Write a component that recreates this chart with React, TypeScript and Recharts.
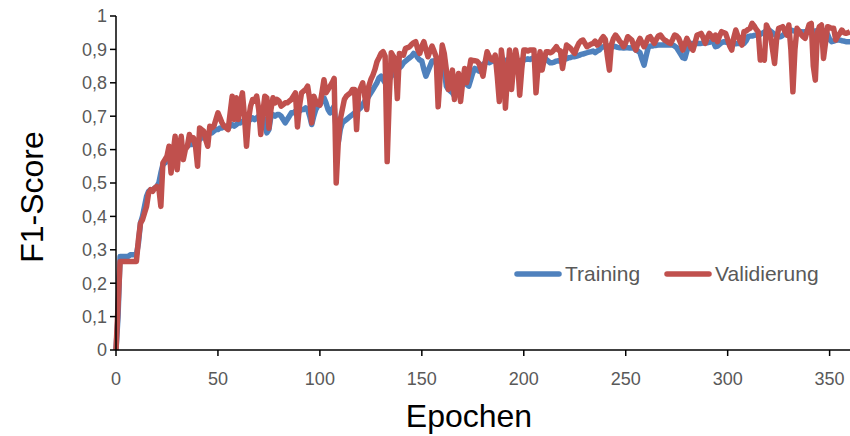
import { LineChart, Line, XAxis, YAxis, Legend, Label } from 'recharts'

// F1-score per epoch (epochs 0..360)
const training = [
  0, 0.1, 0.28, 0.28, 0.28, 0.28, 0.28, 0.285, 0.285, 0.285,
  0.285, 0.32, 0.38, 0.4, 0.43, 0.46, 0.475, 0.48, 0.48, 0.485,
  0.49, 0.5, 0.53, 0.555, 0.56, 0.565, 0.57, 0.565, 0.575, 0.58,
  0.585, 0.59, 0.6, 0.595, 0.605, 0.61, 0.615, 0.615, 0.62, 0.62,
  0.625, 0.63, 0.635, 0.64, 0.64, 0.645, 0.65, 0.65, 0.655, 0.66,
  0.66, 0.665, 0.665, 0.67, 0.67, 0.665, 0.67, 0.675, 0.67, 0.675,
  0.68, 0.68, 0.685, 0.685, 0.68, 0.69, 0.69, 0.695, 0.69, 0.695,
  0.7, 0.69, 0.7, 0.68, 0.65, 0.66, 0.7, 0.705, 0.7, 0.705,
  0.705, 0.7, 0.69, 0.68, 0.69, 0.7, 0.71, 0.71, 0.715, 0.71,
  0.715, 0.72, 0.72, 0.725, 0.72, 0.7, 0.675, 0.7, 0.72, 0.73,
  0.735, 0.745, 0.755, 0.74, 0.72, 0.71, 0.72, 0.73, 0.66, 0.62,
  0.66, 0.68, 0.685, 0.69, 0.695, 0.7, 0.705, 0.71, 0.715, 0.72,
  0.725, 0.735, 0.745, 0.75, 0.76, 0.77, 0.78, 0.79, 0.8, 0.815,
  0.82, 0.81, 0.8, 0.8, 0.81, 0.82, 0.825, 0.83, 0.835, 0.845,
  0.85, 0.86, 0.865, 0.87, 0.875, 0.88, 0.888, 0.885, 0.875, 0.868,
  0.865, 0.84, 0.82, 0.835, 0.85, 0.865, 0.865, 0.86, 0.855, 0.86,
  0.86, 0.84, 0.79, 0.78, 0.775, 0.77, 0.76, 0.77, 0.78, 0.79,
  0.8, 0.8, 0.795, 0.79, 0.81, 0.83, 0.843, 0.84, 0.835, 0.845,
  0.855, 0.86, 0.862, 0.86, 0.863, 0.865, 0.865, 0.86, 0.862, 0.865,
  0.866, 0.867, 0.868, 0.866, 0.865, 0.867, 0.868, 0.866, 0.865, 0.868,
  0.868, 0.87, 0.872, 0.87, 0.873, 0.875, 0.872, 0.875, 0.876, 0.878,
  0.876, 0.87, 0.865, 0.86, 0.86, 0.862, 0.865, 0.866, 0.865, 0.868,
  0.87, 0.872, 0.875, 0.876, 0.878, 0.878, 0.88, 0.882, 0.885, 0.886,
  0.888, 0.89, 0.892, 0.893, 0.895, 0.89, 0.895, 0.898, 0.905, 0.908,
  0.908, 0.91, 0.91, 0.905, 0.91, 0.908, 0.906, 0.905, 0.905, 0.904,
  0.905, 0.905, 0.904, 0.905, 0.903, 0.898, 0.895, 0.89, 0.87, 0.853,
  0.88, 0.905, 0.91, 0.91, 0.912, 0.912, 0.913, 0.913, 0.913, 0.914,
  0.913, 0.913, 0.914, 0.913, 0.91, 0.905, 0.895, 0.885, 0.875, 0.873,
  0.895, 0.912, 0.918, 0.918, 0.917, 0.918, 0.918, 0.918, 0.919, 0.92,
  0.92, 0.921, 0.923, 0.923, 0.908, 0.91, 0.915, 0.92, 0.923, 0.922,
  0.92, 0.918, 0.918, 0.918, 0.917, 0.918, 0.918, 0.918, 0.918, 0.925,
  0.938, 0.94, 0.94, 0.942, 0.943, 0.943, 0.945, 0.948, 0.952, 0.955,
  0.958, 0.955, 0.95, 0.945, 0.94, 0.938, 0.938, 0.942, 0.948, 0.952,
  0.956, 0.958, 0.956, 0.955, 0.953, 0.953, 0.953, 0.952, 0.953, 0.953,
  0.953, 0.953, 0.954, 0.955, 0.956, 0.957, 0.958, 0.957, 0.955, 0.945,
  0.93, 0.923, 0.925, 0.927, 0.928, 0.928, 0.926, 0.925, 0.923, 0.923,
  0.923,
]

const validierung = [
  0, 0.13, 0.265, 0.265, 0.265, 0.265, 0.265, 0.265, 0.265, 0.265,
  0.265, 0.33, 0.38, 0.39, 0.41, 0.43, 0.47, 0.48, 0.475, 0.485,
  0.49, 0.485, 0.43, 0.56, 0.57, 0.58, 0.61, 0.53, 0.59, 0.64,
  0.54, 0.61, 0.64, 0.57, 0.6, 0.61, 0.645, 0.63, 0.635, 0.61,
  0.55, 0.665, 0.66, 0.655, 0.63, 0.61, 0.67, 0.665, 0.67, 0.69,
  0.71, 0.695, 0.68, 0.67, 0.665, 0.66, 0.71, 0.76, 0.69, 0.755,
  0.69, 0.74, 0.77, 0.7, 0.61, 0.69, 0.73, 0.75, 0.745, 0.76,
  0.72, 0.645, 0.71, 0.76, 0.755, 0.664, 0.72, 0.755, 0.74, 0.75,
  0.745, 0.73, 0.735, 0.74, 0.74, 0.745, 0.75, 0.76, 0.77, 0.668,
  0.73, 0.77, 0.775, 0.78, 0.79, 0.75, 0.68, 0.76, 0.745, 0.735,
  0.733, 0.77, 0.809, 0.77, 0.78, 0.79, 0.8, 0.813, 0.5, 0.62,
  0.69, 0.72, 0.75, 0.76, 0.765, 0.77, 0.78, 0.78, 0.66, 0.77,
  0.785, 0.8, 0.76, 0.72, 0.79, 0.81, 0.823, 0.84, 0.863, 0.875,
  0.888, 0.893, 0.88, 0.564, 0.75, 0.89, 0.88, 0.868, 0.753, 0.888,
  0.885, 0.883, 0.903, 0.905, 0.908, 0.915, 0.92, 0.923, 0.9, 0.888,
  0.91, 0.923, 0.9, 0.878, 0.895, 0.91, 0.895, 0.878, 0.728, 0.82,
  0.913, 0.888, 0.84, 0.78, 0.81, 0.838, 0.75, 0.8, 0.828, 0.744,
  0.8, 0.843, 0.8, 0.83, 0.868, 0.867, 0.866, 0.865, 0.858, 0.84,
  0.82, 0.86, 0.893, 0.88, 0.87, 0.868, 0.883, 0.82, 0.744, 0.898,
  0.85, 0.724, 0.82, 0.898, 0.78, 0.85, 0.898, 0.863, 0.763, 0.84,
  0.898, 0.898, 0.895, 0.898, 0.898, 0.898, 0.77, 0.85, 0.893, 0.838,
  0.87, 0.893, 0.893, 0.89, 0.893, 0.9, 0.908, 0.898, 0.895, 0.843,
  0.88, 0.913, 0.908, 0.903, 0.895, 0.888, 0.905, 0.918, 0.925, 0.928,
  0.918, 0.908, 0.912, 0.916, 0.918, 0.925, 0.913, 0.918, 0.93, 0.938,
  0.93, 0.88, 0.838, 0.915, 0.933, 0.943, 0.935, 0.925, 0.918, 0.908,
  0.92, 0.938, 0.933, 0.928, 0.91, 0.898, 0.92, 0.933, 0.92, 0.908,
  0.92, 0.935, 0.938, 0.928, 0.918, 0.93, 0.94, 0.943, 0.935, 0.928,
  0.925, 0.92, 0.918, 0.93, 0.943, 0.94, 0.933, 0.918, 0.898, 0.915,
  0.933, 0.92, 0.905, 0.898, 0.92, 0.943, 0.945, 0.948, 0.935, 0.918,
  0.935, 0.948, 0.94, 0.93, 0.943, 0.923, 0.94, 0.953, 0.95, 0.948,
  0.93, 0.91, 0.898, 0.935, 0.958, 0.94, 0.925, 0.913, 0.953, 0.955,
  0.96, 0.963, 0.978, 0.97, 0.96, 0.953, 0.868, 0.875, 0.868, 0.973,
  0.96, 0.943, 0.9, 0.858, 0.93, 0.963, 0.965, 0.968, 0.955, 0.943,
  0.973, 0.9, 0.773, 0.9, 0.963, 0.955, 0.945, 0.938, 0.933, 0.955,
  0.975, 0.978, 0.85, 0.808, 0.95, 0.968, 0.973, 0.873, 0.92, 0.968,
  0.966, 0.963, 0.963, 0.928, 0.94, 0.948, 0.958, 0.95, 0.948, 0.95,
  0.953,
]

const epochs = training.map((_, i) => i)
const xTicks = [0, 50, 100, 150, 200, 250, 300, 350]
const yTicks = [0, 0.1, 0.2, 0.3, 0.4, 0.5, 0.6, 0.7, 0.8, 0.9, 1]

const data = epochs.map((epoch, i) => ({
  epoch,
  training: training[i],
  validierung: validierung[i],
}))

const BLUE = '#4f81bd'
const RED = '#c0504d'
const tickStyle = { fontFamily: '"Liberation Sans Narrow", "Liberation Sans", Arial, sans-serif', fontSize: 18, fill: '#595959' }
const titleFont = '"Liberation Sans", Arial, sans-serif'

function LegendContent() {
  const item = (color: string, text: string, ml: number) => (
    <div style={{ display: 'flex', alignItems: 'center', marginLeft: ml }}>
      <svg width={48} height={8}>
        <line x1={3} y1={4} x2={45} y2={4} stroke={color} strokeWidth={5.5} strokeLinecap="round" />
      </svg>
      <span style={{ marginLeft: 3 }}>{text}</span>
    </div>
  )
  return (
    <div style={{ display: 'flex', alignItems: 'center', fontFamily: titleFont, fontSize: 21, color: '#595959' }}>
      {item(BLUE, 'Training', 0)}
      {item(RED, 'Validierung', 24)}
    </div>
  )
}

export default function App() {
  return (
    <div style={{ position: 'absolute', left: 0, top: 0, background: '#fff' }}>
      <LineChart width={850} height={436} data={data} margin={{ top: 16, right: 0, bottom: 0, left: 0 }}>
        <XAxis
          dataKey="epoch"
          type="number"
          domain={[0, 360]}
          ticks={xTicks}
          height={86}
          tick={tickStyle}
          tickSize={6}
          tickMargin={16}
          axisLine={{ stroke: '#000', strokeWidth: 1.5 }}
          tickLine={{ stroke: '#000', strokeWidth: 1.5 }}
        >
          <Label
            content={({ viewBox }: any) => (
              <text x={469} y={viewBox.y + 77} textAnchor="middle" fontFamily={titleFont} fontSize={32} fill="#000">
                Epochen
              </text>
            )}
          />
        </XAxis>
        <YAxis
          type="number"
          domain={[0, 1]}
          ticks={yTicks}
          width={116}
          tick={tickStyle}
          tickSize={6}
          tickMargin={3}
          tickFormatter={(v: number) => String(v).replace('.', ',')}
          axisLine={{ stroke: '#000', strokeWidth: 1.5 }}
          tickLine={{ stroke: '#000', strokeWidth: 1.5 }}
        >
          <Label
            content={() => (
              <text
                x={32}
                y={197}
                textAnchor="middle"
                dominantBaseline="central"
                transform="rotate(-90 32 197)"
                fontFamily={titleFont}
                fontSize={32}
                fill="#000"
              >
                F1-Score
              </text>
            )}
          />
        </YAxis>
        <Legend
          layout="horizontal"
          verticalAlign="middle"
          align="center"
          content={() => <LegendContent />}
          wrapperStyle={{ position: 'absolute', left: 514, top: 262, width: 330, height: 26 }}
        />
        <Line
          type="linear"
          dataKey="training"
          stroke={BLUE}
          strokeWidth={5.5}
          dot={false}
          activeDot={false}
          strokeLinejoin="round"
          isAnimationActive={false}
        />
        <Line
          type="linear"
          dataKey="validierung"
          stroke={RED}
          strokeWidth={5.5}
          dot={false}
          activeDot={false}
          strokeLinejoin="round"
          isAnimationActive={false}
        />
      </LineChart>
    </div>
  )
}
